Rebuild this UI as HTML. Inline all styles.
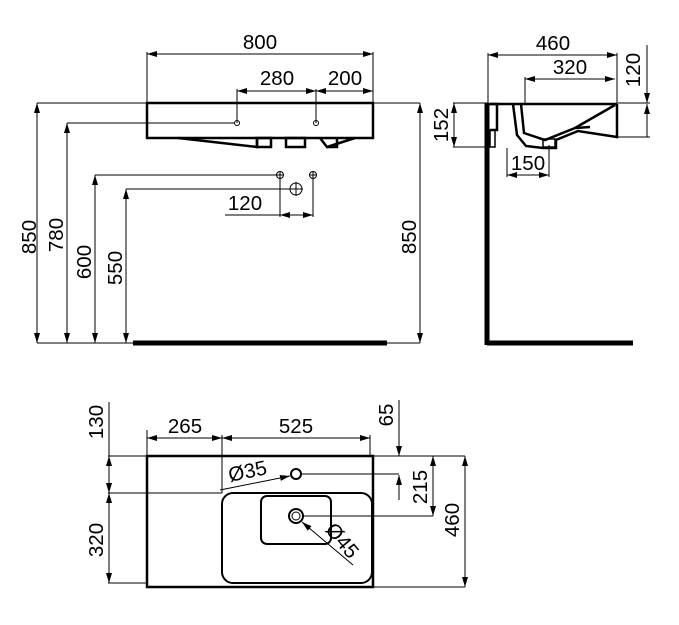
<!DOCTYPE html>
<html><head><style>
html,body{margin:0;padding:0;background:#fff;}
svg{display:block;}
text{font-family:"Liberation Sans",sans-serif;font-size:20.5px;fill:#000;}
</style></head><body>
<svg width="679" height="625" viewBox="0 0 679 625" xmlns="http://www.w3.org/2000/svg">
<defs>
<marker id="a" viewBox="0 0 10 6" refX="10" refY="3" markerWidth="10" markerHeight="6" orient="auto-start-reverse" markerUnits="userSpaceOnUse"><path d="M0,0 L10,3 L0,6 z" fill="#000"/></marker>
</defs>
<g stroke="#000" stroke-width="1" fill="none">
<!-- FRONT VIEW -->
<line x1="147" y1="52" x2="147" y2="103"/><line x1="373" y1="52" x2="373" y2="103"/>
<line x1="147" y1="54" x2="373" y2="54" marker-start="url(#a)" marker-end="url(#a)"/>
<line x1="237" y1="89" x2="237" y2="123"/><line x1="316" y1="89" x2="316" y2="123"/>
<line x1="237" y1="91" x2="316" y2="91" marker-start="url(#a)" marker-end="url(#a)"/>
<line x1="316" y1="91" x2="373" y2="91" marker-start="url(#a)" marker-end="url(#a)"/>
<line x1="37" y1="103" x2="420" y2="103"/>
<line x1="67" y1="123" x2="234" y2="123"/>
<circle cx="237" cy="123" r="2.5"/><circle cx="316" cy="123" r="2.5"/>
<line x1="37" y1="103" x2="37" y2="343" marker-start="url(#a)" marker-end="url(#a)"/>
<line x1="67" y1="123" x2="67" y2="343" marker-start="url(#a)" marker-end="url(#a)"/>
<line x1="95" y1="175" x2="95" y2="343" marker-start="url(#a)" marker-end="url(#a)"/>
<line x1="126" y1="189" x2="126" y2="343" marker-start="url(#a)" marker-end="url(#a)"/>
<line x1="420" y1="103" x2="420" y2="343" marker-start="url(#a)" marker-end="url(#a)"/>
<line x1="95" y1="175" x2="277" y2="175"/>
<line x1="126" y1="189" x2="290" y2="189"/>
<circle cx="280" cy="175" r="3.5"/><path d="M276.5,175h7M280,171.5v7"/>
<circle cx="313" cy="175" r="3.5"/><path d="M309.5,175h7M313,171.5v7"/>
<circle cx="296" cy="189" r="6"/><path d="M289,189h14M296,182v14"/>
<line x1="280" y1="178" x2="280" y2="217"/><line x1="313" y1="178" x2="313" y2="217"/>
<line x1="225" y1="215" x2="280" y2="215"/>
<line x1="280" y1="215" x2="313" y2="215" marker-start="url(#a)" marker-end="url(#a)"/>
<line x1="37" y1="343" x2="133" y2="343"/><line x1="387" y1="343" x2="420" y2="343"/>
<g stroke-width="2.5">
<rect x="147" y="103" width="226" height="35"/>
<path d="M178,138 L257,147 L257,138"/>
<rect x="257" y="138" width="14" height="9"/>
<rect x="286" y="138" width="19" height="9"/>
<path d="M320,138 L327,147 L355,138"/>
<path d="M327,147 L337,147 L337,138"/>
</g>
<line x1="133" y1="343" x2="387" y2="343" stroke-width="5"/>
<!-- SIDE VIEW -->
<line x1="488" y1="53" x2="488" y2="103"/><line x1="617" y1="53" x2="617" y2="103"/><line x1="525" y1="77" x2="525" y2="103"/>
<line x1="488" y1="55" x2="617" y2="55" marker-start="url(#a)" marker-end="url(#a)"/>
<line x1="525" y1="79" x2="615" y2="79" marker-start="url(#a)" marker-end="url(#a)"/>
<line x1="617" y1="103" x2="650" y2="103"/><line x1="617" y1="137" x2="650" y2="137"/>
<line x1="647" y1="45" x2="647" y2="103" marker-end="url(#a)"/>
<line x1="647" y1="137" x2="647" y2="104" marker-end="url(#a)"/>
<line x1="453" y1="103" x2="488" y2="103"/><line x1="453" y1="147" x2="490" y2="147"/>
<line x1="454" y1="103" x2="454" y2="147" marker-start="url(#a)" marker-end="url(#a)"/>
<line x1="507" y1="148" x2="507" y2="177"/><line x1="549" y1="145" x2="549" y2="177"/>
<line x1="507" y1="175" x2="549" y2="175" marker-start="url(#a)" marker-end="url(#a)"/>
<line x1="487" y1="103" x2="487" y2="345" stroke-width="5"/>
<line x1="487" y1="343" x2="633" y2="343" stroke-width="5"/>
<g stroke-width="2.5">
<line x1="488" y1="104" x2="617" y2="104"/>
<path d="M490,104 L497,104 L497,130 L490,130"/>
<rect x="490" y="130" width="5" height="17" stroke-width="1.5"/>
<path d="M513,104 L517,135 L526,146 L543,148 L556,148 L556,140 L578,131 L617,137 L617,104"/>
<path d="M521,104 L524,133 L545,140 L575,128 L615,105"/>
<path d="M590,127 L575,128"/>
<rect x="543" y="139" width="12" height="8" stroke-width="1.5"/>
</g>
<!-- TOP VIEW -->
<line x1="147" y1="430" x2="147" y2="456"/><line x1="222" y1="435" x2="222" y2="493"/><line x1="370" y1="435" x2="370" y2="456"/>
<line x1="147" y1="438" x2="222" y2="438" marker-start="url(#a)" marker-end="url(#a)"/>
<line x1="222" y1="438" x2="370" y2="438" marker-start="url(#a)" marker-end="url(#a)"/>
<line x1="108" y1="456" x2="147" y2="456"/><line x1="108" y1="493" x2="222" y2="493"/><line x1="108" y1="583" x2="147" y2="583"/>
<line x1="109" y1="402" x2="109" y2="456"/>
<line x1="109" y1="456" x2="109" y2="493" marker-start="url(#a)" marker-end="url(#a)"/>
<line x1="109" y1="493" x2="109" y2="583" marker-start="url(#a)" marker-end="url(#a)"/>
<line x1="373" y1="456" x2="465" y2="456"/><line x1="373" y1="587" x2="465" y2="587"/>
<line x1="399" y1="400" x2="399" y2="456" marker-end="url(#a)"/>
<line x1="399" y1="500" x2="399" y2="475" marker-end="url(#a)"/>
<line x1="301" y1="474" x2="399" y2="474"/>
<line x1="303" y1="516" x2="433" y2="516"/>
<line x1="433" y1="456" x2="433" y2="516" marker-start="url(#a)" marker-end="url(#a)"/>
<line x1="465" y1="456" x2="465" y2="587" marker-start="url(#a)" marker-end="url(#a)"/>
<line x1="220" y1="490" x2="290" y2="476" marker-end="url(#a)"/>
<line x1="353" y1="565" x2="302" y2="522" marker-end="url(#a)"/>
<rect x="147" y="456" width="226" height="131" stroke-width="2.5"/>
<rect x="222" y="493" width="150" height="90" rx="11" stroke-width="2"/>
<rect x="261" y="496" width="70" height="48" rx="6" stroke-width="2"/>
<circle cx="296" cy="516" r="7" stroke-width="2"/><circle cx="296" cy="516" r="4"/>
<circle cx="296" cy="474" r="5" stroke-width="2"/>
</g>
<g text-anchor="middle">
<text x="260" y="49">800</text>
<text x="277" y="85">280</text>
<text x="345" y="85">200</text>
<text x="245" y="210">120</text>
<text transform="translate(36,237) rotate(-90)">850</text>
<text transform="translate(63,235) rotate(-90)">780</text>
<text transform="translate(91,262) rotate(-90)">600</text>
<text transform="translate(122,268) rotate(-90)">550</text>
<text transform="translate(416,237) rotate(-90)">850</text>
<text x="553" y="50">460</text>
<text x="570" y="74">320</text>
<text x="528" y="170">150</text>
<text transform="translate(640,70) rotate(-90)">120</text>
<text transform="translate(448,125) rotate(-90)">152</text>
<text x="185" y="433">265</text>
<text x="296" y="433">525</text>
<text transform="translate(103,422) rotate(-90)">130</text>
<text transform="translate(103,540) rotate(-90)">320</text>
<text transform="translate(393,415) rotate(-90)">65</text>
<text transform="translate(427,487) rotate(-90)">215</text>
<text transform="translate(459,520) rotate(-90)">460</text>
<text transform="translate(249,478) rotate(-12)">Ø35</text>
<text transform="translate(337,545) rotate(50)">Ø45</text>
</g>
</svg>
</body></html>
